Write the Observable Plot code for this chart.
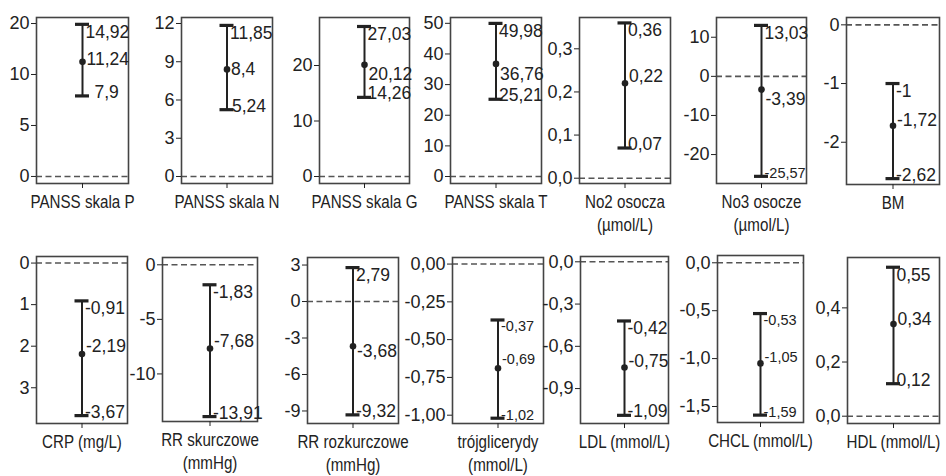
<!DOCTYPE html>
<html><head><meta charset="utf-8">
<script src="https://cdn.jsdelivr.net/npm/d3@7"></script>
<script src="https://cdn.jsdelivr.net/npm/@observablehq/plot@0.6"></script>
<style>
body{margin:0;background:#fff;}
#chart{position:relative;width:946px;height:476px;overflow:hidden;background:#fff;}
#chart svg{position:absolute;overflow:visible;}
</style></head><body><div id="chart"></div>
<script>
// ---- data ----
const names = ["PANSS skala P","PANSS skala N","PANSS skala G","PANSS skala T","No2 osocza\n(µmol/L)","No3 osocze\n(µmol/L)","BM",
  "CRP (mg/L)","RR skurczowe\n(mmHg)","RR rozkurczowe\n(mmHg)","trójglicerydy\n(mmol/L)","LDL (mmol/L)","CHCL (mmol/L)","HDL (mmol/L)"];
const upper = [14.92, 11.85, 27.03, 49.98, 0.36, 13.03, -1, -0.91, -1.83, 2.79, -0.37, -0.42, -0.53, 0.55];
const mean  = [11.24, 8.4, 20.12, 36.76, 0.22, -3.39, -1.72, -2.19, -7.68, -3.68, -0.69, -0.75, -1.05, 0.34];
const lower = [7.9, 5.24, 14.26, 25.21, 0.07, -25.57, -2.62, -3.67, -13.91, -9.32, -1.02, -1.09, -1.59, 0.12];
const tickValues = [[0,5,10,15],[0,3,6,9,12],[0,10,20],[0,10,20,30,40,50],[0,0.1,0.2,0.3],[-20,-10,0,10],[-2,-1,0],
  [-3,-2,-1,0],[-10,-5,0],[-9,-6,-3,0,3],[-1,-0.75,-0.5,-0.25,0],[-0.9,-0.6,-0.3,0],[-1.5,-1,-0.5,0],[0,0.2,0.4]];
const tickLabels = [["0","5","10","20"],["0","3","6","9","12"],["0","10","20"],["0","10","20","30","40","50"],["0,0","0,1","0,2","0,3"],["-20","-10","0","10"],["-2","-1","0"],
  ["3","2","1","0"],["-10","-5","0"],["-9","-6","-3","0","3"],["-1,00","-0,75","-0,50","-0,25","0,00"],["-0,9","-0,6","-0,3","0,0"],["-1,5","-1,0","-0,5","0,0"],["0,0","0,2","0,4"]];
const yDomains = [[-0.69,15.59],[-0.55,12.47],[-1.26,28.65],[-2.28,51.9],[-0.0123,0.3726],[-27.4,15.05],[-2.72,0.125],
  [-3.86,0.158],[-14.36,0.67],[-10.03,3.62],[-1.055,0.0435],[-1.148,0.0377],[-1.667,0.076],[-0.027,0.586]];

// ---- layout / style ----
const boxes = [[36,128,17,183],[181,272,17,183],[319,409,17,183],[450,541,17,183],[579,670,17,183],[716,806,17,183],[846,939,17,184],
  [36,127,256,423],[162,257,257,421],[307,398,257,423],[452,543,257,423],[580,668,256,423],[717,803,255,422],[847,939,257,423]];
const meanShift = [-2,0,10,11,-7,10,-5,-8,-7,5,-9,-6,-6,-5];
const lowerDx = [12,5,3,3,3,3,3,3,3,3,3,3,3,3];
const small = {5:{lower:true},10:{upper:true,mean:true,lower:true},12:{upper:true,mean:true,lower:true}};
const fmt = v => String(v).replace(".", ",");
const ink = "#222";
const chart = document.getElementById("chart");

names.forEach((name, i) => {
  const [l, r, t, b] = boxes[i];
  const mL = 60, mR = 45, mT = 10, mB = 62;
  const row = {name, upper: upper[i], mean: mean[i], lower: lower[i]};
  const tl = new Map(tickValues[i].map((v, j) => [v, tickLabels[i][j]]));
  const inset = ((r - l) - 14) / 2;
  const fs = k => (small[i] && small[i][k]) ? 14.5 : 17.5;
  const plot = Plot.plot({
    width: mL + (r - l) + mR,
    height: mT + (b - t) + mB,
    marginLeft: mL, marginRight: mR, marginTop: mT, marginBottom: mB,
    x: {type: "band", domain: [name], padding: 0},
    y: {domain: yDomains[i]},
    style: {fontFamily: "'Liberation Sans', Arial, sans-serif", fontSize: "17px", color: ink, background: "transparent", overflow: "visible"},
    marks: [
      Plot.ruleY([0], {stroke: "#555", strokeWidth: 1.6, strokeDasharray: "6,3.5"}),
      Plot.frame({stroke: "#444", strokeWidth: 1.6}),
      Plot.axisY({ticks: tickValues[i], tickFormat: d => tl.get(d), tickSize: 5, tickPadding: 2, label: null}),
      Plot.axisX({tickSize: 5, tickPadding: 3, lineHeight: 1.25, label: null}),
      Plot.ruleX([row], {x: "name", y1: "lower", y2: "upper", stroke: ink, strokeWidth: 2}),
      Plot.tickY([row], {x: "name", y: "upper", stroke: ink, strokeWidth: 3.2, insetLeft: inset, insetRight: inset}),
      Plot.tickY([row], {x: "name", y: "lower", stroke: ink, strokeWidth: 3.2, insetLeft: inset, insetRight: inset}),
      Plot.dot([row], {x: "name", y: "mean", r: 3.3, fill: ink, stroke: null}),
      Plot.text([row], {x: "name", y: "upper", text: d => fmt(d.upper), textAnchor: "start", lineAnchor: "top", dx: 3, dy: 1, fontSize: fs("upper"), fill: ink}),
      Plot.text([row], {x: "name", y: "mean", text: d => fmt(d.mean), textAnchor: "start", lineAnchor: "middle", dx: 4, dy: meanShift[i], fontSize: fs("mean"), fill: ink}),
      Plot.text([row], {x: "name", y: "lower", text: d => fmt(d.lower), textAnchor: "start", lineAnchor: "bottom", dx: lowerDx[i], dy: 2, fontSize: fs("lower"), fill: ink})
    ]
  });
  // y tick labels slightly larger
  plot.querySelectorAll('g[aria-label="y-axis tick label"] text').forEach(el => { el.style.fontSize = "18px"; });
  // category labels: larger, condensed horizontally (narrow typeface in the reference)
  plot.querySelectorAll('g[aria-label="x-axis tick label"] text').forEach(el => {
    el.style.fontSize = "18.5px";
    const tr = el.getAttribute("transform") || "";
    el.setAttribute("transform", tr + " scale(0.82,1)");
  });
  plot.style.left = (l - mL) + "px";
  plot.style.top = (t - mT) + "px";
  chart.appendChild(plot);
});
</script></body></html>
